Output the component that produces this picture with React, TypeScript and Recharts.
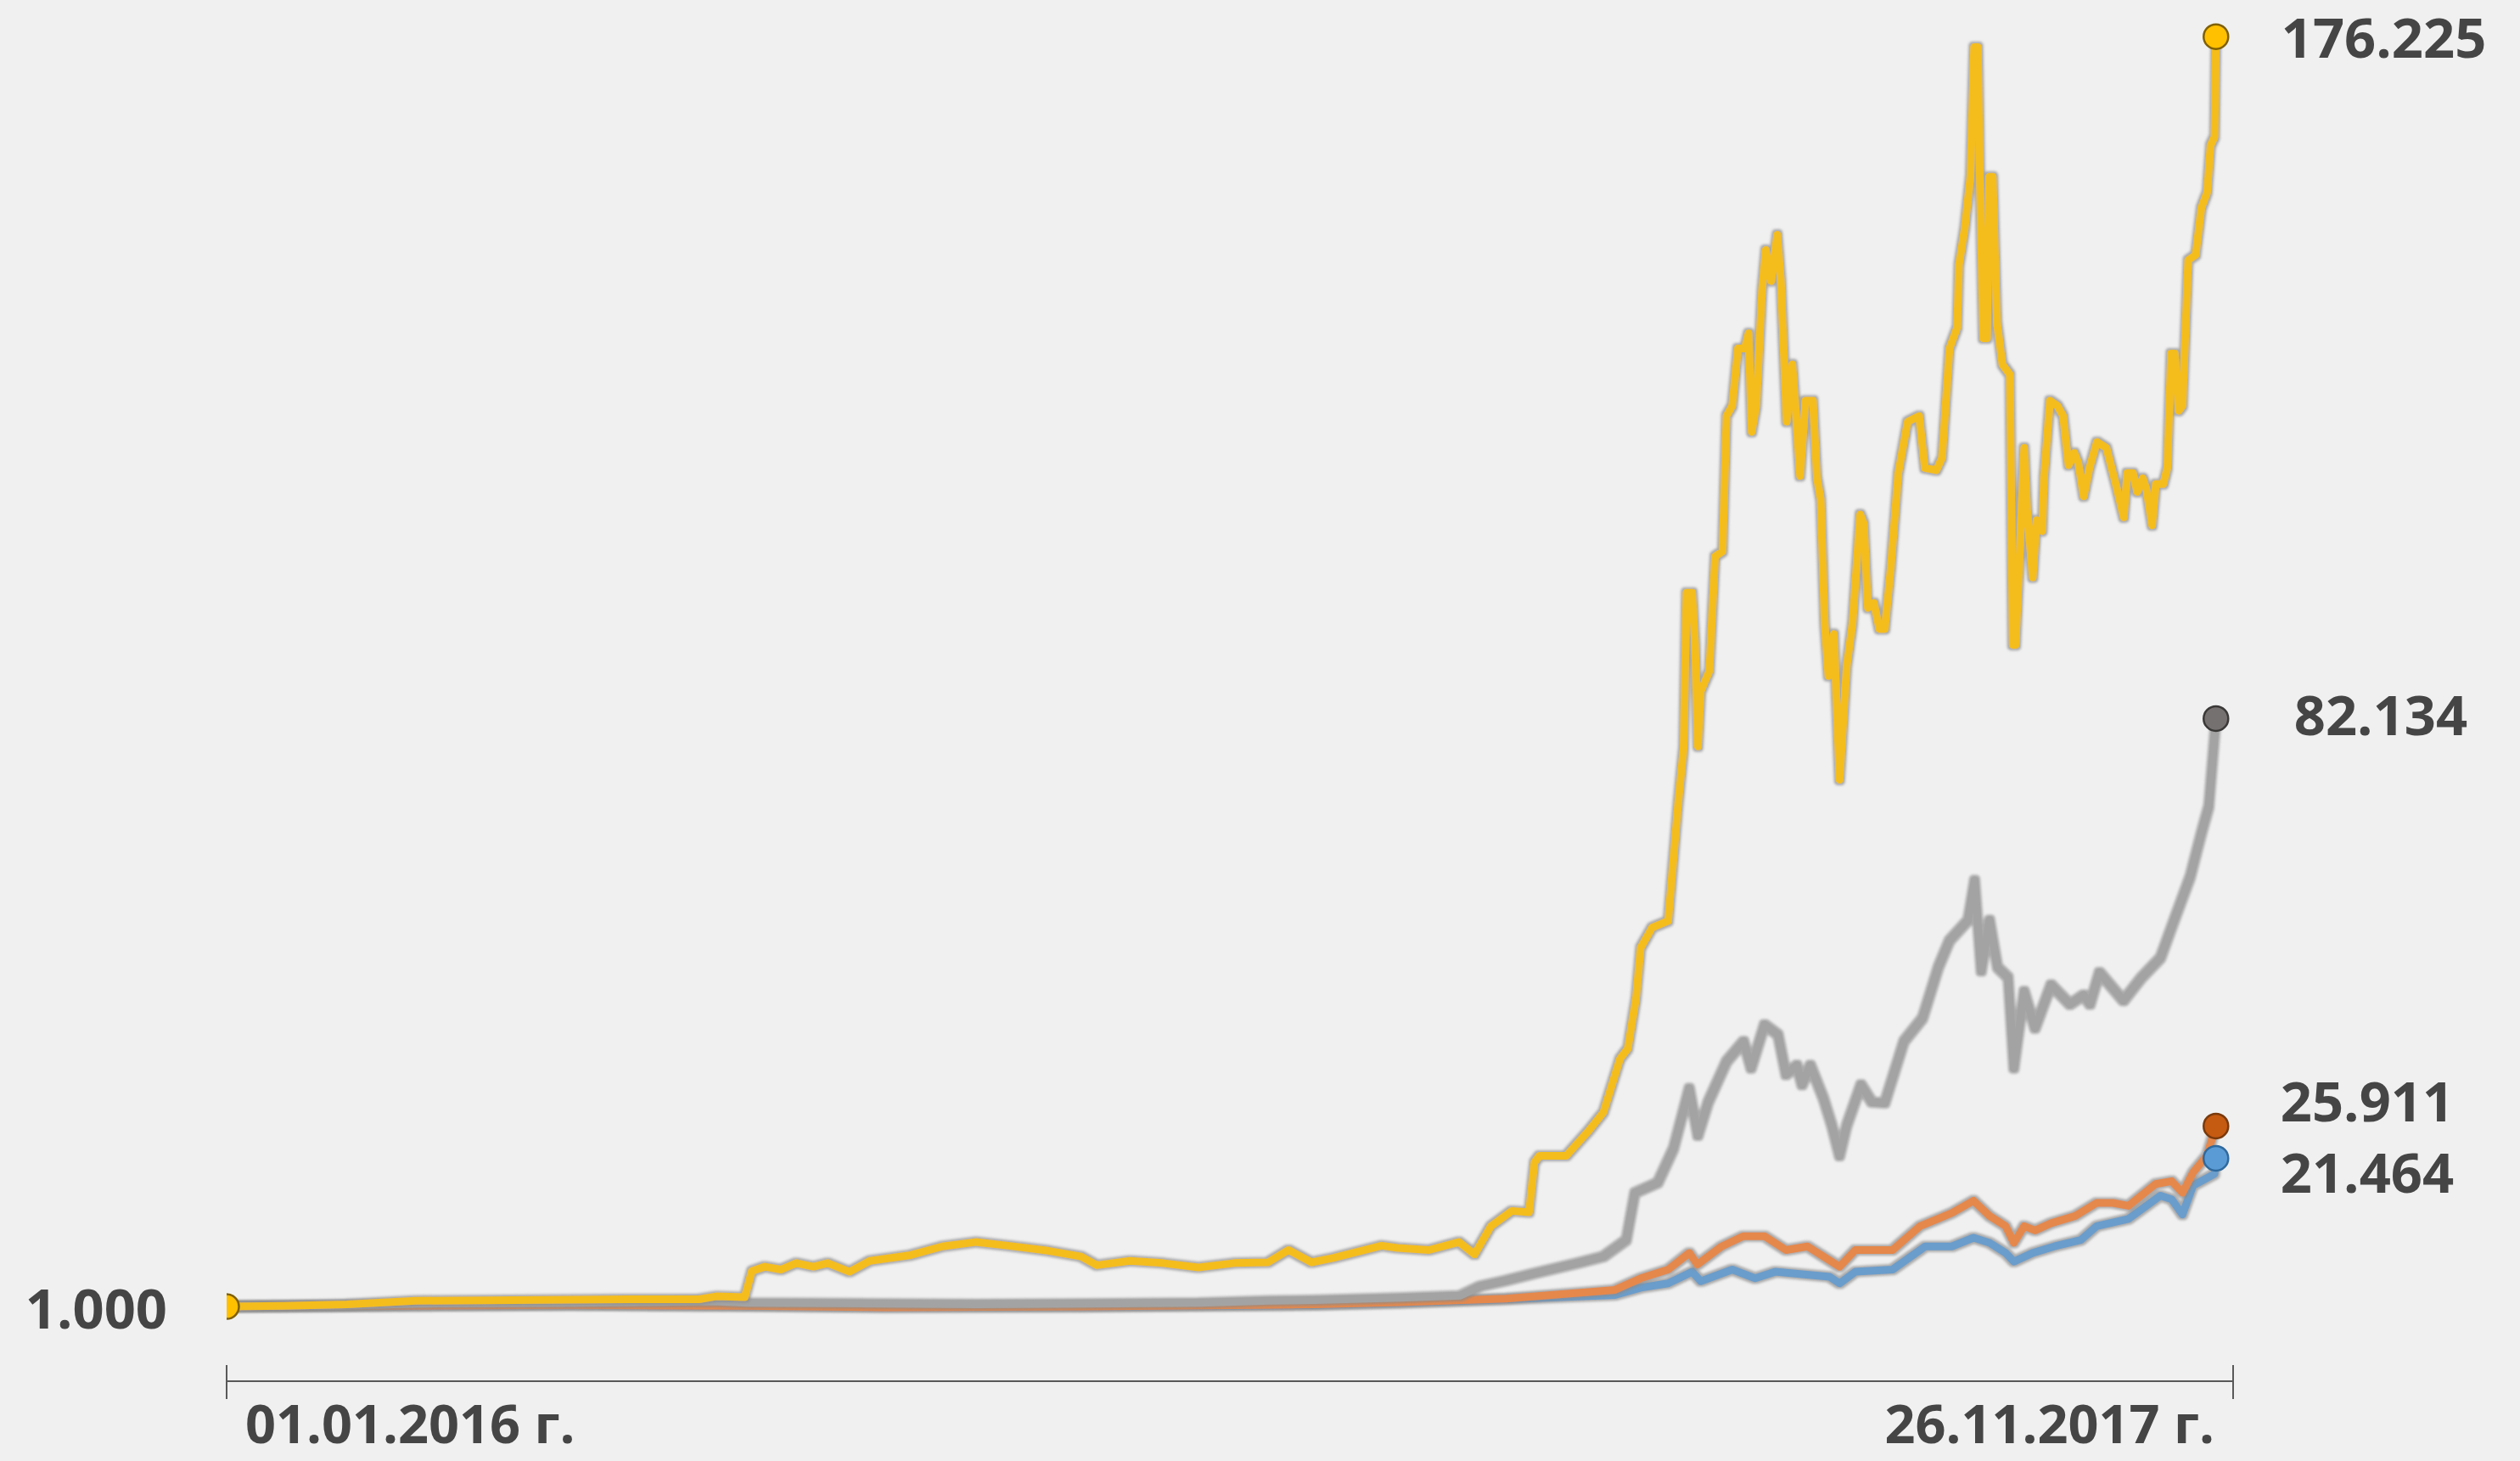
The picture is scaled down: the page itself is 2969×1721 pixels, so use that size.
import React from "react";
import { Line, LineChart, XAxis, YAxis } from "recharts";

// days since 01.01.2016, values are growth multiples of the start (1.000)
const yellowDays = [
  0, 20, 42, 66, 100, 140, 165, 171, 181, 183.5, 188, 193.6, 199, 205, 210, 217.6, 224.7, 239, 250, 261.6,
  273, 287, 298.5, 304, 315.5, 327, 339.5, 352, 363.8, 371, 379, 386.5, 403.5, 409, 420, 430.5, 436, 441.7,
  449, 455, 456.9, 458.6, 468, 475.5, 481, 486.8, 489.5, 492.4, 494, 498, 503.6, 505.5, 507, 509, 510, 512,
  513, 514, 515, 518, 520, 522.6, 524, 526, 528, 530.4, 531.7, 532.8, 534.4, 536.4, 537.7, 539.6, 541.7, 543,
  545, 547, 548.3, 549.7, 551.6, 554.2, 555.6, 556.9, 558.3, 559.6, 561.5, 563.5, 566, 568, 570.7, 572, 573.4,
  575.5, 577.4, 579.3, 581.4, 584, 587.3, 591.3, 593.3, 597.3, 599.3, 601.9, 604.6, 605.2, 607.2, 609.2, 610.5,
  611.8, 612.5, 613.7, 615, 615.8, 617, 618.5, 620.4, 623, 624, 625, 626.4, 628, 629, 631, 632.3, 634.3, 634.9,
  637, 639.6, 641.6, 643.5, 645.5, 646.9, 648.8, 650.8, 653.4, 656.7, 660, 662.8, 664, 666, 667.5, 669.4, 670.7,
  672.7, 674, 676.6, 678, 679.3, 680.6, 682, 683.3, 685.3, 687.9, 689.9, 691.9, 693.1, 694.5, 695
];
const yellowValues = [
  1.0, 1.1, 1.3, 1.8, 1.9, 2.0, 2.0, 2.4, 2.3, 5.9, 6.5, 6.1, 7.0, 6.5, 7.0, 5.8, 7.3, 8.1, 9.3, 9.9,
  9.4, 8.7, 7.9, 6.7, 7.3, 7.0, 6.4, 7.0, 7.1, 8.8, 7.1, 7.7, 9.4, 9.1, 8.8, 9.9, 8.2, 12.1,
  14.2, 14.0, 20.9, 21.8, 21.8, 25.1, 27.8, 35.2, 36.6, 43.6, 50.5, 53.3, 54.2, 63, 70, 78, 99.5, 99.5,
  92.3, 78.3, 85.9, 88.7, 104.5, 105.2, 123.9, 125.3, 133.2, 133.2, 135.3, 121.7, 125.3, 141.1, 146.8, 142.5, 148.9, 142.5,
  123.1, 131, 123.9, 115.6, 126, 126, 115.3, 112.4, 95.2, 88, 93.8, 73.7, 89.4, 95.2, 110.3, 109, 97.4,
  98.1, 94.5, 94.5, 103, 116, 123.1, 123.9, 116.7, 116.4, 118.1, 133.2, 136.1, 144.7, 149.7, 156.9, 174.8,
  174.8, 156.9, 134.6, 134.6, 156.9, 156.9, 136.7, 131, 129.6, 92.3, 92.3, 104.5, 119.5, 111, 101.6, 109.5, 108, 115.3,
  126, 125.3, 123.9, 117.1, 118.8, 117.4, 112.8, 116.7, 120.3, 119.5, 114.5, 109.9, 116, 116, 113.4, 115.3, 113.8,
  108.8, 114.5, 114.5, 116.7, 132.5, 132.5, 124.6, 125.3, 145.4, 146.1, 152.6, 154.7, 161.2, 162.4, 176.225
];

const grayDays = [
  0, 40, 66, 120, 170, 182, 230, 262, 300, 340, 364, 380, 410, 431, 438, 447, 457, 472, 481, 489, 492, 500,
  505.5, 511, 514, 517.6, 524, 530, 532.6, 537.3, 542, 544.8, 548.6, 550.4, 553.3, 557.9, 560.8, 563.5, 566,
  571, 574.8, 579.3, 586, 592.5, 598, 601.9, 608.4, 610.7, 613, 615.9, 618.7, 622.4, 624.4, 628, 631.8, 637.4,
  644, 648.8, 651, 654.3, 662.7, 669, 675.6, 680.4, 686, 689.9, 692.5, 695
];
const grayValues = [
  1.0, 1.1, 1.4, 1.5, 1.7, 1.5, 1.4, 1.3, 1.4, 1.5, 1.8, 1.9, 2.2, 2.5, 3.8, 4.6, 5.6, 7.0, 7.9, 10.2, 16.7, 18.1,
  22.8, 31.1, 24.6, 29.2, 34.8, 37.6, 33.9, 39.9, 38.5, 33, 34.3, 31.6, 34.3, 29.7, 26, 21.8, 26,
  31.6, 29.2, 29.1, 37.6, 40.8, 47.8, 51.5, 54.3, 59.8, 47.3, 54.3, 47.8, 46.4, 33.9, 44.5, 39.4, 45.4,
  42.7, 44, 42.7, 47.1, 43.2, 46.4, 49.1, 54.3, 60.3, 66.3, 70, 82.134
];

const orangeDays = [
  0, 60, 120, 182, 230, 300, 380, 410, 447, 485, 494, 503.6, 511, 513.8, 522.3, 529.8, 537.3, 544.8, 552.3,
  563.5, 569, 582, 591.6, 602.7, 610.3, 615.9, 621.5, 624.4, 628, 631.8, 637.4, 645.8, 653.3, 659, 664.4,
  673.9, 679.5, 683.3, 687, 691.8, 695
];
const orangeValues = [
  1.0, 1.1, 1.2, 1.1, 0.9, 1.0, 1.3, 1.6, 2.1, 3.3, 4.9, 6.1, 8.4, 6.8, 9.3, 10.7, 10.7, 8.8, 9.3,
  6.5, 8.8, 8.8, 12.1, 13.9, 15.6, 13.5, 12.1, 9.8, 12.1, 11.5, 12.5, 13.5, 15.3, 15.3, 14.9,
  17.9, 18.3, 16.7, 19.5, 21.8, 25.911
];

const blueDays = [
  0, 60, 120, 182, 230, 300, 380, 410, 447, 485, 494, 503.6, 512, 515, 526, 534, 541, 552, 560, 563.5, 569,
  582, 593.4, 602.7, 610.3, 615.9, 621.5, 624.4, 631, 638.5, 647.8, 653.3, 664.4, 675.6, 679.5, 683.3, 687,
  694.5, 695
];
const blueValues = [
  1.0, 1.1, 1.2, 1.1, 1.0, 1.0, 1.2, 1.5, 2.0, 2.6, 3.6, 4.2, 5.8, 4.5, 6.1, 4.9, 5.8, 5.4, 5.1, 4.2, 5.8,
  6.1, 9.3, 9.3, 10.5, 9.8, 8.4, 7.2, 8.4, 9.3, 10.2, 12.1, 13.1, 16.3, 15.8, 13.7, 17.7,
  19.3, 21.464
];

const xTicks = [0, 701];
const xTickLabels = ["01.01.2016 г.", "26.11.2017 г."];

const toPoints = (days: number[], values: number[]) => days.map((day, i) => ({ day, value: values[i] }));

const TEXT = "#454545";
const FONT = "'Open Sans', sans-serif";

function DateTick(props: any) {
  const { x, y, payload } = props;
  const first = payload.value === xTicks[0];
  const label = xTickLabels[xTicks.indexOf(payload.value)];
  return (
    <g>
      <line x1={x} x2={x} y1={y - 19} y2={y + 21} stroke="#595959" strokeWidth={2} />
      <text
        x={first ? x + 22 : x - 22}
        y={y + 73}
        textAnchor={first ? "start" : "end"}
        fill={TEXT}
        fontFamily={FONT}
        fontWeight={700}
        fontSize={63}
      >
        {label}
      </text>
    </g>
  );
}

const endDot = (fill: string, stroke: string, withStart = false) => (props: any) => {
  const { cx, cy, index, points } = props;
  const last = points ? points.length - 1 : -1;
  if (index === last || (withStart && index === 0)) {
    return <circle key={`dot-${index}`} cx={cx} cy={cy} r={14.5} fill={fill} stroke={stroke} strokeWidth={2.5} />;
  }
  return <g key={`dot-${index}`} />;
};

const endLabel = (count: number, dx: number, dy: number, withStart = false) => (props: any) => {
  const { x, y, index, value } = props;
  const text = (label: string, tx: number, ty: number, anchor: "start" | "end") => (
    <text key={`lbl-${index}`} x={tx} y={ty} textAnchor={anchor} fill={TEXT} fontFamily={FONT} fontWeight={700} fontSize={65}>
      {label}
    </text>
  );
  if (index === count - 1) return text(Number(value).toFixed(3), x + dx, y + dy, "start");
  if (withStart && index === 0) return text(Number(value).toFixed(3), x - 70, y + 26, "end");
  return <g key={`lbl-${index}`} />;
};

export default function App() {
  const lineProps = {
    type: "linear" as const,
    dataKey: "value",
    strokeWidth: 9,
    strokeLinejoin: "round" as const,
    isAnimationActive: false,
    filter: "url(#lineEdge)"
  };

  return (
    <div style={{ position: "absolute", left: 0, top: 0, width: 2969, height: 1721, background: "#f0f0f0" }}>
      <LineChart width={2969} height={1721} margin={{ top: 11, right: 338, bottom: 0, left: 267 }}>
        <defs>
          <filter id="lineEdge" filterUnits="userSpaceOnUse" x="0" y="0" width="2969" height="1721">
            <feMorphology in="SourceAlpha" operator="dilate" radius="1.5" result="grown" />
            <feGaussianBlur in="grown" stdDeviation="1.6" result="blur" />
            <feFlood floodColor="#8a8a8a" floodOpacity="0.7" />
            <feComposite in2="blur" operator="in" result="edge" />
            <feMerge>
              <feMergeNode in="edge" />
              <feMergeNode in="SourceGraphic" />
            </feMerge>
          </filter>
        </defs>
        <XAxis
          type="number"
          dataKey="day"
          domain={[xTicks[0], xTicks[1]]}
          ticks={xTicks}
          interval={0}
          height={94}
          tickSize={0}
          tickMargin={0}
          tickLine={false}
          axisLine={{ stroke: "#595959", strokeWidth: 2 }}
          tick={<DateTick />}
          allowDataOverflow
        />
        <YAxis type="number" domain={[-9.3, 180]} hide allowDataOverflow />
        <Line
          {...lineProps}
          data={toPoints(blueDays, blueValues)}
          stroke="#6b9dcb"
          dot={endDot("#5b9bd5", "#2f6a9e")}
          label={endLabel(blueDays.length, 76, 41)}
        />
        <Line
          {...lineProps}
          data={toPoints(orangeDays, orangeValues)}
          stroke="#e5884c"
          dot={endDot("#c55a11", "#7a3a0c")}
          label={endLabel(orangeDays.length, 76, -5)}
        />
        <Line
          {...lineProps}
          data={toPoints(grayDays, grayValues)}
          stroke="#a3a3a3"
          dot={endDot("#767171", "#3b3838")}
          label={endLabel(grayDays.length, 92, 20)}
        />
        <Line
          {...lineProps}
          data={toPoints(yellowDays, yellowValues)}
          stroke="#f4bd1c"
          dot={endDot("#ffc000", "#7f6000", true)}
          label={endLabel(yellowDays.length, 77, 25, true)}
        />
      </LineChart>
    </div>
  );
}
